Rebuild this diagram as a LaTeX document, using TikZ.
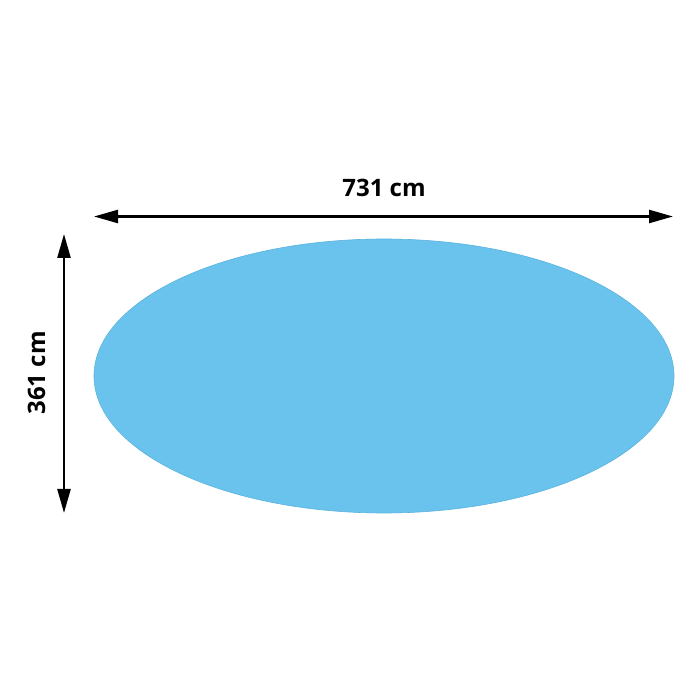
\documentclass[tikz,border=0pt]{standalone}
\usepackage{fontspec}
\setmainfont{Open Sans}
\usetikzlibrary{arrows.meta,shapes.geometric}
\definecolor{pool}{HTML}{69C3EC}
\definecolor{poolrim}{HTML}{5AB3DD}
\tikzset{
  dim/.style={line width=2.4pt, {Triangle[length=24pt,width=13pt]}-{Triangle[length=24pt,width=13pt]}},
  lbl/.style={font=\fontsize{24}{28}\selectfont\bfseries, inner sep=0pt},
  pooloval/.style={ellipse, fill=pool, draw=poolrim, line width=0.6pt, minimum width=580pt, minimum height=274pt, inner sep=0pt},
}
\begin{document}
\begin{tikzpicture}[x=1pt,y=1pt]
\useasboundingbox (0,0) rectangle (696,696);
\fill[white] (0,0) rectangle (696,696);
\node[pooloval] (pool) at (384,320) {};
\coordinate (hl) at (94,479.5);
\coordinate (hr) at (673,479.5);
\coordinate (vt) at (64,462);
\coordinate (vb) at (64,183);
\draw[dim] (hl) -- (hr);
\draw[dim] (vt) -- (vb);
\node[lbl, anchor=base] (w) at (384,499) {731 cm};
\node[lbl, anchor=base, rotate=90] (h) at (45,323) {361 cm};
\end{tikzpicture}
\end{document}
